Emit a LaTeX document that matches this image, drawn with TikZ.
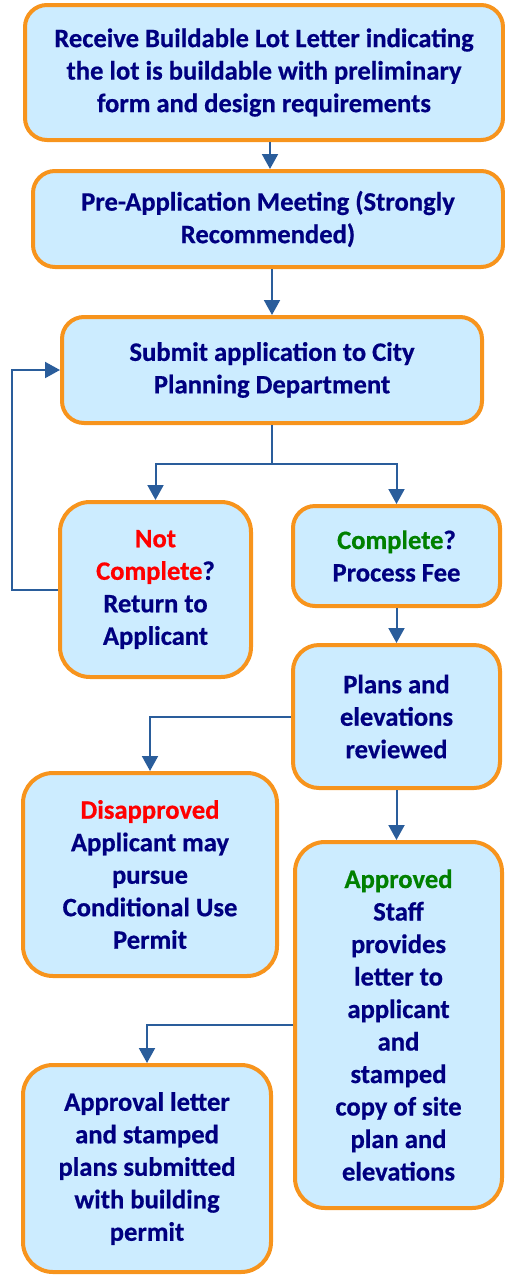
\documentclass[tikz,border=0pt]{standalone}
\usepackage{fontspec}
\setmainfont{Carlito}[BoldFeatures={FakeBold=0.6}]
\usetikzlibrary{arrows.meta}
\definecolor{boxfill}{HTML}{CCECFF}
\definecolor{boxdraw}{HTML}{F7941D}
\definecolor{navy}{HTML}{000080}
\definecolor{arrowc}{HTML}{2A5D9B}
\definecolor{redt}{HTML}{FF0000}
\definecolor{greent}{HTML}{008000}
\tikzset{
  box/.style={draw=boxdraw, line width=4pt, fill=boxfill, rounded corners=22pt,
    align=center, inner sep=0pt, text=navy,
    font=\fontsize{26.6}{32.5}\selectfont\bfseries},
  conn/.style={draw=arrowc, line width=2pt},
  arr/.style={conn, -{Triangle[width=16pt,length=15pt]}},
}
\begin{document}
\begin{tikzpicture}[x=1pt,y=-1pt]
\useasboundingbox (0,0) rectangle (504,1275);
\node[box, minimum width=478pt, minimum height=135pt] (b1) at (264,72.5)
  {Receive Buildable Lot Letter indicating\\the lot is buildable with preliminary\\form and design requirements};
\node[box, minimum width=470pt, minimum height=96pt] (b2) at (268,219)
  {Pre-Application Meeting (Strongly\\Recommended)};
\node[box, minimum width=420pt, minimum height=106pt] (b3) at (272,370)
  {Submit application to City\\Planning Department};
\node[box, rounded corners=30pt, minimum width=191pt, minimum height=175pt] (b4) at (155.5,589.5)
  {\textcolor{redt}{Not}\\\textcolor{redt}{Complete}?\\Return to\\Applicant};
\node[box, minimum width=207pt, minimum height=100pt] (b5) at (396.5,556)
  {\textcolor{greent}{Complete}?\\Process Fee};
\node[box, rounded corners=26pt, minimum width=207pt, minimum height=143pt] (b6) at (396.5,716.5)
  {Plans and\\elevations\\reviewed};
\node[box, rounded corners=30pt, minimum width=254pt, minimum height=203pt] (b7) at (150,874.5)
  {\textcolor{redt}{Disapproved}\\Applicant may\\pursue\\Conditional Use\\Permit};
\node[box, rounded corners=30pt, minimum width=207pt, minimum height=366pt] (b8) at (398.5,1025)
  {\textcolor{greent}{Approved}\\Staff\\provides\\letter to\\applicant\\and\\stamped\\copy of site\\plan and\\elevations};
\node[box, rounded corners=30pt, minimum width=248pt, minimum height=207pt] (b9) at (147,1168.5)
  {Approval letter\\and stamped\\plans submitted\\with building\\permit};
\coordinate (xa) at (270,0);
\coordinate (j) at (272,464);
\coordinate (fb) at (12,0);
\draw[arr] (b1.south -| xa) -- (b2.north -| xa);
\draw[arr] (b2.south -| b3.north) -- (b3.north);
\draw[conn] (b3.south) -- (j);
\draw[arr] (j) -| (b4.north);
\draw[arr] (j) -| (b5.north);
\draw[arr] (b4.west) -- (fb |- b4.west) |- (b3.west);
\draw[arr] (b5.south) -- (b6.north);
\draw[arr] (b6.west) -| (b7.north);
\draw[arr] (b6.south) -- (b6.south |- b8.north);
\draw[arr] (b8.west) -| (b9.north);
\end{tikzpicture}
\end{document}
